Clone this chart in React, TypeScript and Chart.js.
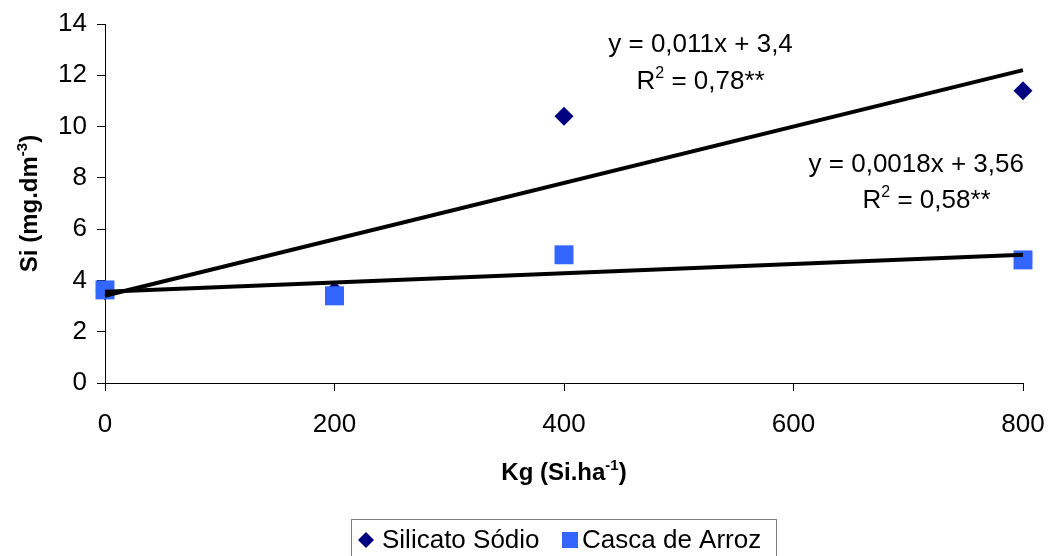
import React, { useEffect, useRef } from "react";
import { Chart, registerables } from "chart.js";

Chart.register(...registerables);

const doses = [0, 200, 400, 800];
const silicatoSodio = [3.6, 3.6, 10.4, 11.4];
const cascaArroz = [3.63, 3.4, 5.0, 4.8];
const trendSlopes = [0.011, 0.0018];
const trendIntercepts = [3.4, 3.56];
const trendRange = [0, 800];
const eqTexts = ["y = 0,011x + 3,4", "y = 0,0018x + 3,56"];
const r2Texts = [" = 0,78**", " = 0,58**"];
// label anchors in data units (x centre, y)
const eqAnchorX = [519, 707];
const eqAnchorY = [13.26, 8.58];
const r2AnchorX = [519, 716];
const r2AnchorY = [11.82, 7.18];
const yTicksMax = 14;
const xTicksMax = 800;

const FONT = "'Liberation Sans', Arial, sans-serif";
const NAVY = "#000080";
const BLUE = "#3366FF";

type Piece = { t: string; sup?: boolean };

function drawPieces(ctx: CanvasRenderingContext2D, pieces: Piece[], cx: number, cy: number, size: number, bold: boolean) {
  const w = bold ? "bold " : "";
  const main = `${w}${size}px ${FONT}`;
  const sup = `${w}${Math.round(size * 0.62)}px ${FONT}`;
  let total = 0;
  for (const p of pieces) {
    ctx.font = p.sup ? sup : main;
    total += ctx.measureText(p.t).width;
  }
  let x = cx - total / 2;
  ctx.textAlign = "left";
  ctx.textBaseline = "alphabetic";
  const base = cy + size * 0.36;
  for (const p of pieces) {
    ctx.font = p.sup ? sup : main;
    ctx.fillText(p.t, x, p.sup ? base - size * 0.42 : base);
    x += ctx.measureText(p.t).width;
  }
}

const extrasPlugin = {
  id: "extras",
  afterDraw(chart: any) {
    const ctx: CanvasRenderingContext2D = chart.ctx;
    const xs = chart.scales.x;
    const ys = chart.scales.y;
    const area = chart.chartArea;
    ctx.save();
    ctx.fillStyle = "#000";
    for (let i = 0; i < eqTexts.length; i++) {
      drawPieces(ctx, [{ t: eqTexts[i] }], xs.getPixelForValue(eqAnchorX[i]), ys.getPixelForValue(eqAnchorY[i]), 26, false);
      drawPieces(ctx, [{ t: "R" }, { t: "2", sup: true }, { t: r2Texts[i] }], xs.getPixelForValue(r2AnchorX[i]), ys.getPixelForValue(r2AnchorY[i]), 26, false);
    }
    drawPieces(ctx, [{ t: "Kg (Si.ha" }, { t: "-1", sup: true }, { t: ")" }], (area.left + area.right) / 2, 471, 24, true);
    ctx.save();
    ctx.translate(28, (area.top + area.bottom) / 2);
    ctx.rotate(-Math.PI / 2);
    drawPieces(ctx, [{ t: "Si (mg.dm" }, { t: "-3", sup: true }, { t: ")" }], 0, 0, 24, true);
    ctx.restore();
    // legend
    ctx.strokeStyle = "#7f7f7f";
    ctx.lineWidth = 1;
    ctx.strokeRect(351.5, 519.5, 425, 50);
    ctx.fillStyle = NAVY;
    ctx.beginPath();
    ctx.moveTo(366, 532);
    ctx.lineTo(374, 540);
    ctx.lineTo(366, 548);
    ctx.lineTo(358, 540);
    ctx.closePath();
    ctx.fill();
    ctx.fillStyle = BLUE;
    ctx.fillRect(562, 532, 16, 16);
    ctx.fillStyle = "#000";
    ctx.font = `26px ${FONT}`;
    ctx.textBaseline = "middle";
    ctx.textAlign = "left";
    ctx.fillText("Silicato Sódio", 382, 541);
    ctx.fillText("Casca de Arroz", 582, 541);
    ctx.restore();
  },
};

export default function App() {
  const ref = useRef<HTMLCanvasElement>(null);
  useEffect(() => {
    if (!ref.current) return;
    const trend = (i: number) =>
      trendRange.map((x) => ({ x, y: trendIntercepts[i] + trendSlopes[i] * x }));
    const chart = new Chart(ref.current, {
      type: "scatter",
      data: {
        datasets: [
          {
            label: "trend1",
            data: trend(0),
            showLine: true,
            borderColor: "#000",
            borderWidth: 4,
            pointRadius: 0,
            clip: false,
            order: 1,
          },
          {
            label: "trend2",
            data: trend(1),
            showLine: true,
            borderColor: "#000",
            borderWidth: 4,
            pointRadius: 0,
            clip: false,
            order: 2,
          },
          {
            label: "Casca de Arroz",
            data: doses.map((x, i) => ({ x, y: cascaArroz[i] })),
            pointStyle: "rect",
            pointRadius: 13.4,
            backgroundColor: BLUE,
            borderWidth: 0,
            clip: false,
            order: 3,
          },
          {
            label: "Silicato Sódio",
            data: doses.map((x, i) => ({ x, y: silicatoSodio[i] })),
            pointStyle: "rectRot",
            pointRadius: 9.5,
            backgroundColor: NAVY,
            borderWidth: 0,
            clip: false,
            order: 4,
          },
        ],
      },
      options: {
        responsive: false,
        animation: false,
        layout: { padding: { top: 24, right: 25, left: 0, bottom: 0 } },
        plugins: { legend: { display: false }, tooltip: { enabled: false } },
        scales: {
          x: {
            type: "linear",
            min: 0,
            max: xTicksMax,
            afterFit: (s: any) => { s.height = 173; s.paddingLeft = 0; s.paddingRight = 0; },
            ticks: { stepSize: 200, color: "#000", font: { family: FONT, size: 26 }, padding: 18, maxRotation: 0 },
            grid: { drawOnChartArea: false, drawTicks: true, tickLength: 8, color: "#000" },
            border: { color: "#000", width: 1 },
          },
          y: {
            type: "linear",
            min: 0,
            max: yTicksMax,
            afterFit: (s: any) => { s.width = 105; s.paddingTop = 0; s.paddingBottom = 0; },
            ticks: { stepSize: 2, color: "#000", font: { family: FONT, size: 26 }, padding: 10 },
            grid: { drawOnChartArea: false, drawTicks: true, tickLength: 8, color: "#000" },
            border: { color: "#000", width: 1 },
          },
        },
      },
      plugins: [extrasPlugin],
    });
    return () => chart.destroy();
  }, []);
  return (
    <div style={{ position: "absolute", left: 0, top: 0, width: 1048, height: 556, background: "#fff", overflow: "hidden" }}>
      <canvas ref={ref} width={1048} height={556} style={{ display: "block" }} />
    </div>
  );
}
